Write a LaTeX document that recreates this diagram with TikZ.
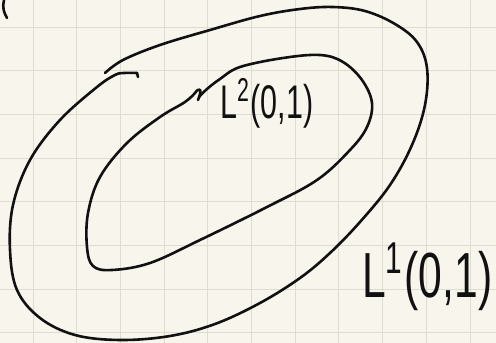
\documentclass[tikz,border=0pt]{standalone}
\usepackage{fontspec}
\setsansfont{Liberation Sans}
\usepackage{graphicx}
\definecolor{paper}{HTML}{F8F6EC}
\definecolor{gridc}{HTML}{DEDCD0}
\definecolor{ink}{HTML}{111111}
\tikzset{
  pen/.style={draw=ink, line width=2.6pt, line cap=round, line join=round},
  gridline/.style={draw=gridc, line width=1pt},
  label/.style={inner sep=0pt, anchor=north west, text=ink}
}
\begin{document}
\begin{tikzpicture}[x=1pt,y=-1pt]
\useasboundingbox (0,0) rectangle (496,343);
\fill[paper] (0,0) rectangle (496,343);
% grid
\foreach \i in {0,...,10} {
  \draw[gridline] ({33+43.7*\i},0) -- ({33+43.7*\i},343);
}
\foreach \j in {0,...,7} {
  \draw[gridline] (0,{27+43.7*\j}) -- (496,{27+43.7*\j});
}
% fragment top-left
\draw[pen] (4,0) .. controls (2,7) and (4,13) .. (7,18);
% outer curve
\draw[pen] plot[smooth, tension=0.6] coordinates {
  (105,73) (123,60) (160,45) (210,30) (260,16) (300,9) (333,7) (365,11)
  (395,24) (417,42) (427,68) (425,105) (412,145) (390,185) (360,222)
  (330,253) (300,278) (260,303) (215,324) (170,336) (120,340) (75,335)
  (40,318) (17,290) (10,250) (13,205) (30,160) (60,120) (97,87) (115,75)
  (124,73) (137,73)};
\draw[pen] (137,73) -- (138,77);
% inner curve
\draw[pen] plot[smooth, tension=0.6] coordinates {
  (199,97) (207,89) (220,79) (240,67) (283,58) (320,55) (343,62)
  (362,80) (372,103) (367,127) (350,150) (317,180) (267,207) (200,240)
  (150,263) (112,270) (93,266) (87,247) (88,213) (100,177) (127,143)
  (160,117) (185,102) (195,93)};
\draw[pen] (195,93) .. controls (199,87) and (203,88) .. (198,100);
% labels
\node[label] (l2) at (220,78) {\resizebox*{93pt}{50pt}{\sffamily L\textsuperscript{2}(0,1)}};
\node[label] (l1) at (362,243) {\resizebox*{130pt}{67pt}{\sffamily L\textsuperscript{1}(0,1)}};
\end{tikzpicture}
\end{document}
